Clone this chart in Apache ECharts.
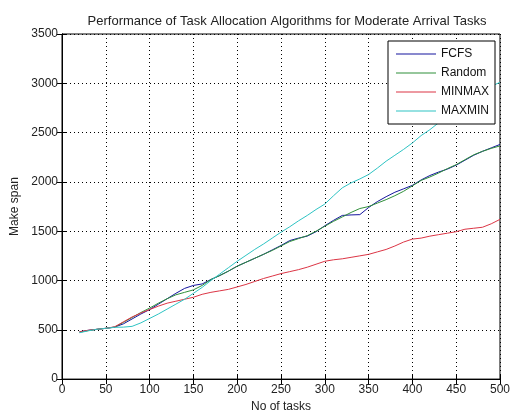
<!DOCTYPE html>
<html>
<head>
<meta charset="utf-8">
<script src="https://cdn.jsdelivr.net/npm/echarts@6/dist/echarts.min.js"></script>
<style>
  html, body { margin: 0; padding: 0; background: #fff; }
  #chart { width: 513px; height: 418px; }
</style>
</head>
<body>
<div id="chart"></div>
<script>
// number of tasks
const tasks = [20, 30, 40, 50, 60, 70, 80, 90, 100, 110, 120, 130, 140, 150, 160, 170, 180, 190, 200,
  210, 220, 230, 240, 250, 260, 270, 280, 290, 300, 310, 320, 330, 340, 350, 360, 370, 380, 390, 400,
  410, 420, 430, 440, 450, 460, 470, 480, 490, 500]

const fcfs = [480, 495, 505, 515, 527, 560, 610, 660, 705, 760, 815, 870, 920, 950, 965, 1010, 1050, 1095, 1145,
  1185, 1225, 1265, 1310, 1355, 1405, 1430, 1450, 1495, 1555, 1610, 1660, 1665, 1668, 1740, 1800, 1850, 1895, 1930, 1965,
  2020, 2065, 2100, 2130, 2170, 2220, 2270, 2310, 2345, 2380]

const random = [475, 492, 505, 515, 527, 575, 625, 675, 720, 770, 815, 855, 880, 905, 950, 1010, 1050, 1095, 1145,
  1185, 1225, 1265, 1305, 1350, 1395, 1425, 1455, 1500, 1550, 1600, 1645, 1690, 1730, 1750, 1785, 1820, 1860, 1905, 1960,
  2015, 2050, 2090, 2135, 2175, 2225, 2275, 2310, 2340, 2365]

const minmax = [480, 495, 505, 515, 530, 580, 630, 670, 705, 740, 770, 790, 810, 830, 860, 880, 895, 910, 935,
  960, 990, 1020, 1045, 1070, 1090, 1110, 1135, 1165, 1195, 1210, 1220, 1235, 1250, 1265, 1290, 1315, 1350, 1390, 1420,
  1430, 1450, 1465, 1480, 1495, 1520, 1530, 1540, 1575, 1620]

const maxmin = [470, 490, 505, 515, 525, 527, 535, 570, 615, 660, 710, 760, 810, 870, 930, 1000, 1065, 1130, 1195,
  1255, 1315, 1370, 1430, 1490, 1545, 1605, 1660, 1720, 1775, 1860, 1940, 1990, 2030, 2075, 2140, 2210, 2270, 2330, 2395,
  2470, 2530, 2600, 2670, 2740, 2800, 2860, 2920, 2970, 3010]

const seriesNames = ['FCFS', 'Random', 'MINMAX', 'MAXMIN']
const seriesData = [fcfs, random, minmax, maxmin]
const colors = ['#14149e', '#2f8f3a', '#dc3545', '#2ec4c4']

const font = 'Liberation Sans, Arial, sans-serif'

function pairs(values) {
  return tasks.map((t, i) => [t, values[i]])
}

const chart = echarts.init(document.getElementById('chart'), null, { renderer: 'canvas' })

const tickCommon = { show: true, inside: true, length: 5, lineStyle: { color: '#000' } }
const gridLine = { show: true, lineStyle: { color: '#000', type: [1, 3], width: 1 } }

chart.setOption({
  animation: false,
  backgroundColor: '#fff',
  title: {
    text: 'Performance of Task Allocation Algorithms for Moderate Arrival Tasks',
    left: 282,
    textAlign: 'center',
    top: 10,
    textStyle: { fontFamily: font, fontSize: 13, fontWeight: 'normal', color: '#222' }
  },
  grid: {
    left: 62,
    top: 34,
    width: 442,
    height: 349,
    show: true,
    borderColor: '#000',
    borderWidth: 1,
    backgroundColor: 'transparent'
  },
  legend: {
    orient: 'vertical',
    left: 388,
    top: 41,
    z: 20,
    padding: [6, 6, 6, 8],
    itemGap: 5,
    icon: 'rect',
    itemWidth: 40,
    itemHeight: 1,
    itemTextGap: 5,
    backgroundColor: '#fff',
    borderColor: '#000',
    borderWidth: 1,
    borderRadius: 0,
    textStyle: { fontFamily: font, fontSize: 12, color: '#111', lineHeight: 14 },
    data: seriesNames
  },
  xAxis: [{
    type: 'value',
    min: 0,
    max: 500,
    interval: 50,
    name: 'No of tasks',
    nameLocation: 'middle',
    nameGap: 20,
    nameTextStyle: { fontFamily: font, fontSize: 12, color: '#222' },
    axisLine: { show: true, lineStyle: { color: '#000' } },
    axisTick: tickCommon,
    axisLabel: { fontFamily: font, fontSize: 12, color: '#222', margin: 5, formatter: v => String(v) },
    splitLine: gridLine
  }, {
    type: 'value',
    position: 'top',
    min: 0,
    max: 500,
    interval: 50,
    axisLine: { show: true, lineStyle: { color: '#000' } },
    axisTick: tickCommon,
    axisLabel: { show: false },
    splitLine: { show: false }
  }],
  yAxis: [{
    type: 'value',
    min: 0,
    max: 3500,
    interval: 500,
    name: 'Make span',
    nameLocation: 'middle',
    nameGap: 34,
    nameTextStyle: { fontFamily: font, fontSize: 12, color: '#222' },
    axisLine: { show: true, lineStyle: { color: '#000' } },
    axisTick: tickCommon,
    axisLabel: { fontFamily: font, fontSize: 12, color: '#222', margin: 4, formatter: v => String(v) },
    splitLine: gridLine
  }, {
    type: 'value',
    position: 'right',
    min: 0,
    max: 3500,
    interval: 500,
    axisLine: { show: true, lineStyle: { color: '#000' } },
    axisTick: tickCommon,
    axisLabel: { show: false },
    splitLine: { show: false }
  }],
  series: seriesNames.map((name, i) => ({
    name: name,
    type: 'line',
    data: pairs(seriesData[i]),
    symbol: 'none',
    smooth: false,
    clip: true,
    lineStyle: { color: colors[i], width: 1 },
    itemStyle: { color: colors[i] },
    z: 2 + i
  }))
})
</script>
</body>
</html>
